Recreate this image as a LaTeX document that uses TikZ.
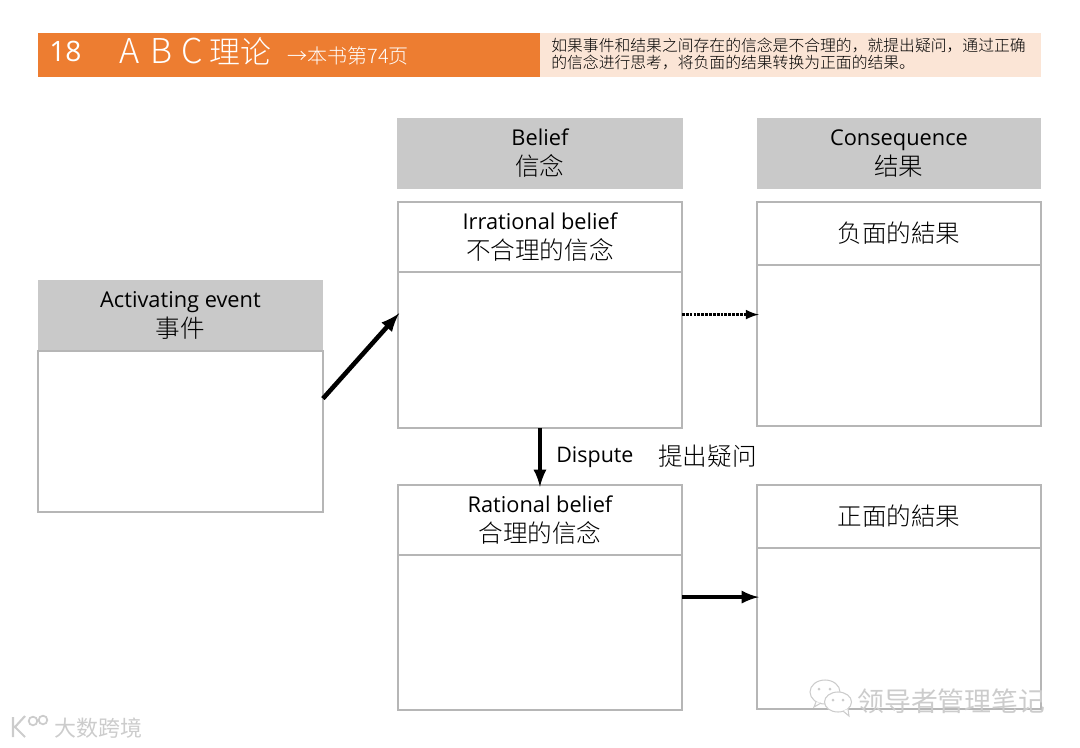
\documentclass[tikz,border=0pt]{standalone}
\usepackage{fontspec}
\setmainfont{Open Sans}
\newfontfamily\cjk{Noto Sans CJK SC Light}
\newfontfamily\cjkreg{Noto Sans CJK SC}
\newcommand{\cn}[1]{{\cjk\fontsize{14}{16.5}\selectfont #1}}
\usetikzlibrary{arrows, positioning}
\definecolor{bannerorange}{RGB}{237,125,49}
\definecolor{notepeach}{RGB}{251,229,214}
\definecolor{headgray}{RGB}{201,201,201}
\definecolor{boxline}{RGB}{182,182,182}

\begin{document}
\begin{tikzpicture}[
        x=0.02cm, y=-0.02cm,
        node distance=0pt,
        box/.style={rectangle, draw=boxline, line width=0.8pt, inner sep=0pt, outer sep=0pt, align=center, minimum width=5.68cm},
        head/.style={box, minimum height=1.40cm, font=\fontsize{12.4}{17}\selectfont, execute at begin node={\rule{0pt}{16pt}}},
        graybox/.style={head, draw=none, fill=headgray},
        conhead/.style={box, minimum height=1.26cm, font=\fontsize{12.4}{17}\selectfont},
        arrow/.style={-latex, line width=2.3pt, shorten >=-1pt},
        stamp/.style={text=black!20, font=\cjkreg\fontsize{15.3}{17}\selectfont},
        stampline/.style={black!20, line width=0.6pt}
    ]
    \useasboundingbox (0,0) rectangle (1080,748);
    % Banner
    \node[rectangle, fill=bannerorange, minimum width=10.04cm, minimum height=0.88cm, inner sep=0pt, outer sep=0pt, anchor=north west] (banner) at (38,33) {};
    \node[rectangle, fill=notepeach, minimum width=10.02cm, minimum height=0.88cm, inner sep=0pt, outer sep=0pt, right=0pt of banner] (note) {};
    \node[anchor=west, text=white, inner sep=0pt, font=\fontsize{16}{18}\selectfont] (number) at (49,51) {18};
    \node[anchor=west, text=white, inner sep=0pt, font=\cjk\fontsize{17.6}{20}\selectfont] (title) at (119,51) {{\fontsize{19.5}{20}\selectfont A\hspace{6pt}B\hspace{5.5pt}C}\hspace{3.5pt}理论};
    \node[anchor=west, text=white, inner sep=0pt, font=\cjk\fontsize{11.4}{14}\selectfont] (page) at (287,56) {→本书第74页};
    \node[anchor=west, inner sep=0pt, align=left, font=\cjk\fontsize{9}{10}\selectfont] (notetext) at (551,54) {如果事件和结果之间存在的信念是不合理的，就提出疑问，通过正确\\的信念进行思考，将负面的结果转换为正面的结果。};

    % Column heads
    \node[graybox, minimum width=5.72cm, minimum height=1.42cm, anchor=north west] (belief) at (397,118) {Belief\\\cn{信念}};
    \node[graybox, minimum height=1.42cm, anchor=north west] (consequence) at (757,118) {Consequence\\\cn{结果}};

    % Event
    \node[graybox, minimum width=5.70cm, minimum height=1.42cm, anchor=north west] (eventhead) at (38,280) {Activating event\\\cn{事件}};
    \node[box, minimum width=5.70cm, minimum height=3.22cm, below=0pt of eventhead] (eventbody) {};

    % Irrational
    \node[head, anchor=north west] (irrhead) at (398,202) {Irrational belief\\\cn{不合理的信念}};
    \node[box, minimum height=3.12cm, below=0pt of irrhead] (irrbody) {};

    % Rational
    \node[head, anchor=north west] (rathead) at (398,485) {Rational belief\\\cn{合理的信念}};
    \node[box, minimum height=3.10cm, below=0pt of rathead] (ratbody) {};

    % Results
    \node[conhead, anchor=north west] (neghead) at (757,202) {\cn{负面的結果}};
    \node[box, minimum height=3.22cm, below=0pt of neghead] (negbody) {};
    \node[conhead, anchor=north west] (poshead) at (757,485) {\cn{正面的結果}};
    \node[box, minimum height=3.22cm, below=0pt of poshead] (posbody) {};

    % Edges
    \draw[arrow, line width=2.6pt] (eventbody.13.4) -- (irrbody.166.6);
    \draw[-latex, line width=1.5pt, dash pattern=on 1.6pt off 0.6pt, shorten >=-1pt] (irrbody.14.2) -- (irrbody.14.2 -| negbody.west);
    \draw[arrow] (irrbody.south) -- (rathead.north);
    \draw[arrow] (ratbody.14.2) -- (ratbody.14.2 -| posbody.west);

    % Dispute
    \node[anchor=west, inner sep=0pt, font=\fontsize{12.2}{15}\selectfont] (dispute) at (556,457) {Dispute};
    \node[anchor=west, inner sep=0pt, font=\cjk\fontsize{14}{16}\selectfont] (disputecn) at (658,456) {提出疑问};

    % Watermarks
    \draw[stampline, fill=white] (825,692) ellipse (15 and 12);
    \draw[stampline, fill=white] (816,702) -- (814,707) -- (821,703);
    \draw[stampline, fill=white] (838,702) ellipse (13.5 and 10);
    \draw[stampline, fill=white] (843,711) -- (849,716) -- (848,709);
    \fill[black!20] (819,689) circle (1.5) (830,689) circle (1.5) (833,700) circle (1.5) (843,700) circle (1.5);
    \node[stamp, anchor=west, inner sep=0pt] (wechat) at (857,701) {领导者管理笔记};
    \draw[black!20, line width=1.2pt] (13,717) -- (13,737) (25,716) -- (15,727) -- (25,737);
    \draw[black!20, line width=1pt] (33,721) circle (4.3) (43,720) circle (4.3);
    \node[stamp, anchor=west, inner sep=0pt, font=\cjkreg\fontsize{12.5}{14}\selectfont] (kuajing) at (54,728) {大数跨境};
\end{tikzpicture}
\end{document}
